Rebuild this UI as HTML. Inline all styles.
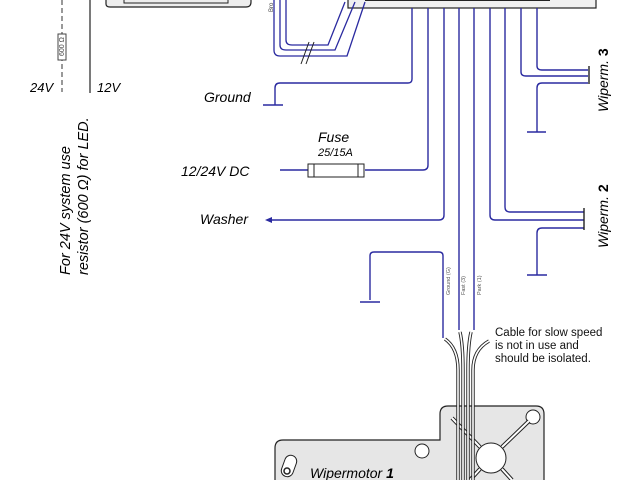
<!DOCTYPE html>
<html><head><meta charset="utf-8"><style>
html,body{margin:0;padding:0;background:#fff;width:640px;height:480px;overflow:hidden}
svg{display:block}
text{font-family:"Liberation Sans",sans-serif}
</style></head><body>
<svg width="640" height="480" viewBox="0 0 640 480" xmlns="http://www.w3.org/2000/svg">
<!-- top boxes -->
<path d="M106 0 V4 Q106 7 110 7 H246 Q251 7 251 2 V0" fill="#eee" stroke="#222" stroke-width="1.2"/>
<rect x="124" y="-2" width="104" height="5" fill="none" stroke="#222"/>
<rect x="348" y="-2" width="248" height="10" fill="#f0f0f0" stroke="#222" stroke-width="1.2"/>
<line x1="365" y1="0" x2="550" y2="0" stroke="#222" stroke-width="2"/>
<!-- left led lines -->
<line x1="62" y1="0" x2="62" y2="92" stroke="#333" stroke-dasharray="5,3"/>
<rect x="58" y="34" width="8" height="26" fill="#fff" stroke="#444"/>
<text x="0" y="0" font-size="7" fill="#444" transform="translate(64,56) rotate(-90)">600 Ω</text>
<line x1="90" y1="0" x2="90" y2="93" stroke="#222" stroke-width="1.2"/>
<text x="30" y="92" font-size="13" font-style="italic">24V</text>
<text x="97" y="92" font-size="13" font-style="italic">12V</text>
<g transform="translate(70,275) rotate(-90)" font-size="14.5" font-style="italic">
<text x="0" y="0">For 24V system use</text>
<text x="0" y="18">resistor (600 Ω) for LED.</text>
</g>
<!-- brown wires -->
<g fill="none" stroke="#2a2aa0" stroke-width="1.3">
<path d="M274 0 V50 Q274 56 280 56 H347 L365 2"/>
<path d="M280 0 V45 Q280 50 286 50 H335 L355 2"/>
<path d="M286 0 V40 Q286 45 292 45 H328 L345 2"/>
</g>
<line x1="301" y1="64" x2="309" y2="42" stroke="#222"/>
<line x1="306" y1="64" x2="314" y2="42" stroke="#222"/>
<text x="0" y="0" font-size="6" fill="#444" transform="translate(273,12) rotate(-90)">Bro</text>
<!-- blue wires -->
<g fill="none" stroke="#2a2aa0" stroke-width="1.4">
<path d="M412 8 V79 Q412 83 408 83 H280 Q275 83 275 88 V105"/>
<path d="M428 8 V165 Q428 170 423 170 H365"/>
<path d="M444 8 V215 Q444 220 439 220 H272"/>
<path d="M459 8 V330"/>
<path d="M474 8 V330"/>
<path d="M490 8 V215 Q490 220 495 220 H584"/>
<path d="M505 8 V207 Q505 212 510 212 H584"/>
<path d="M521 8 V72 Q521 76 526 76 H588"/>
<path d="M537 8 V66 Q537 70 542 70 H588"/>
<path d="M588 83 H542 Q537 83 537 88 V132"/>
<path d="M584 228 H542 Q537 228 537 233 V275"/>
<path d="M370 300 V256 Q370 252 374 252 H439 Q443 252 443 256 V338"/>
<path d="M280 170 H308"/>
</g>
<g stroke="#2a2aa0" stroke-width="1.4">
<line x1="263" y1="105" x2="283" y2="105"/>
<line x1="527" y1="132" x2="546" y2="132"/>
<line x1="527" y1="275" x2="547" y2="275"/>
<line x1="360" y1="302" x2="380" y2="302"/>
<line x1="589" y1="66" x2="589" y2="84" stroke="#222"/>
<line x1="584" y1="208" x2="584" y2="230" stroke="#222"/>
</g>
<polygon points="265,220 272,217 272,223" fill="#2a2aa0"/>
<!-- fuse -->
<rect x="308" y="164" width="56" height="13" fill="#fff" stroke="#222"/>
<line x1="314" y1="164" x2="314" y2="177" stroke="#222"/>
<line x1="358" y1="164" x2="358" y2="177" stroke="#222"/>
<text x="318" y="142" font-size="14" font-style="italic">Fuse</text>
<text x="318" y="156" font-size="11" font-style="italic">25/15A</text>
<text x="204" y="102" font-size="14" font-style="italic">Ground</text>
<text x="181" y="176" font-size="14" font-style="italic">12/24V DC</text>
<text x="200" y="224" font-size="14" font-style="italic">Washer</text>
<text x="0" y="0" font-size="14" font-style="italic" transform="translate(608,112) rotate(-90)">Wiperm. <tspan font-weight="bold" font-style="normal">3</tspan></text>
<text x="0" y="0" font-size="14" font-style="italic" transform="translate(608,248) rotate(-90)">Wiperm. <tspan font-weight="bold" font-style="normal">2</tspan></text>
<g font-size="5.5" fill="#555">
<text transform="translate(450,295) rotate(-90)">Ground (G)</text>
<text transform="translate(465,295) rotate(-90)">Fast (3)</text>
<text transform="translate(481,295) rotate(-90)">Park (1)</text>
</g>
<text font-size="11.5" fill="#111"><tspan x="495" y="336">Cable for slow speed</tspan><tspan x="495" y="349">is not in use and</tspan><tspan x="495" y="362">should be isolated.</tspan></text>
<!-- motor -->
<path d="M275 482 V448 Q275 440 283 440 H440 V414 Q440 406 448 406 H536 Q544 406 544 414 V482 Z" fill="#e6e6e6" stroke="#222" stroke-width="1.2"/>
<circle cx="491" cy="458" r="15" fill="#fff" stroke="#222"/>
<circle cx="422" cy="451" r="7" fill="#fff" stroke="#222"/>
<circle cx="533" cy="417" r="7" fill="#fff" stroke="#222"/>
<g stroke="#222" stroke-width="4"><line x1="502" y1="447" x2="529" y2="421"/><line x1="480" y1="447" x2="452" y2="418"/><line x1="480" y1="469" x2="470" y2="480"/><line x1="502" y1="469" x2="512" y2="480"/></g>
<g stroke="#fff" stroke-width="2"><line x1="502" y1="447" x2="529" y2="421"/><line x1="480" y1="447" x2="452" y2="418"/><line x1="480" y1="469" x2="470" y2="480"/><line x1="502" y1="469" x2="512" y2="480"/></g>
<rect x="283" y="455" width="12" height="22" rx="6" fill="#fff" stroke="#222" transform="rotate(20 289 466)"/>
<circle cx="287" cy="471" r="3" fill="#fff" stroke="#222" stroke-width="1.5"/>
<text x="310" y="478" font-size="14" font-style="italic">Wipermotor <tspan font-weight="bold">1</tspan></text>
<!-- cables -->
<g fill="none" stroke="#222" stroke-width="3.4">
<path d="M445 339 Q458 348 458 370 V482"/><path d="M460 332 Q463 345 463 370 V482"/>
<path d="M471 332 Q468 345 468 370 V482"/><path d="M489 341 Q473 350 473 370 V482"/>
</g>
<g fill="none" stroke="#fff" stroke-width="1.6">
<path d="M445 339 Q458 348 458 370 V482"/><path d="M460 332 Q463 345 463 370 V482"/>
<path d="M471 332 Q468 345 468 370 V482"/><path d="M489 341 Q473 350 473 370 V482"/>
</g>
</svg>
</body></html>
